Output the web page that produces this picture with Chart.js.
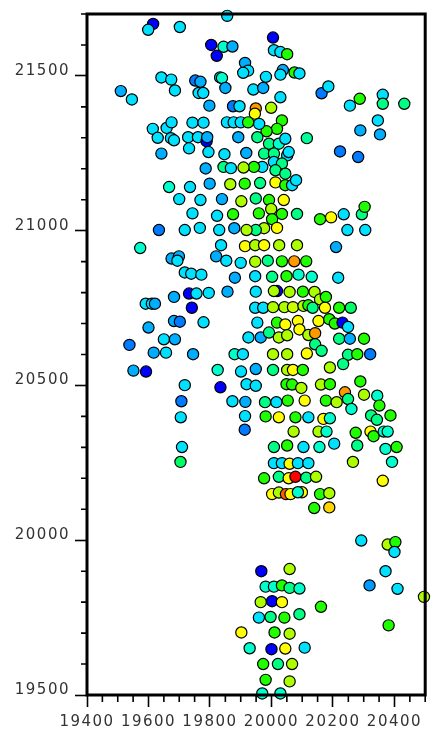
<!DOCTYPE html>
<html><head><meta charset="utf-8">
<script src="https://cdn.jsdelivr.net/npm/chart.js@4.4.1/dist/chart.umd.min.js"></script>
<style>html,body{margin:0;padding:0;background:#fff;}canvas{display:block}</style>
</head><body>
<canvas id="c" width="432" height="736"></canvas>
<script>
const xTickValues = [19400, 19600, 19800, 20000, 20200, 20400];
const yTickValues = [19500, 20000, 20500, 21000, 21500];
const xRange = [19400, 20500];
const yRange = [19500, 21700];

const xValues = [
19615,19599,19702,19856,19804,19822,19844,19873,19914,19924,19908,19642,19674,19686,19510,19546,19752,19769,19763,19778,
19833,19839,19850,19798,19875,19896,19941,19949,19946,20005,20008,20029,20051,20037,20029,20075,20091,19982,19973,20029,
20163,20185,20255,20287,20362,20362,20432,20346,20353,20289,20115,20223,20282,19999,20034,20018,19984,19960,19954,19992,
20024,20045,19976,20008,20051,20056,20008,20034,19970,20013,20045,19943,19963,20013,20045,20067,20080,19949,19992,20040,
19999,19959,20034,20002,19976,20018,19949,20083,20158,20194,20235,20294,20303,20247,20305,19614,19630,19659,19675,19673,
19683,19642,19743,19779,19729,19761,19789,19791,19732,19795,19855,19877,19900,19924,19892,19847,19918,19786,19844,19868,
19909,19667,19735,19799,19866,19913,19700,19769,19839,19902,19743,19823,19875,19634,19718,19767,19830,19879,19919,19573,
19675,19699,19694,19718,19739,19772,19820,19836,19853,19900,19881,19914,19947,19947,19683,19732,19756,19796,19857,19741,
19591,19611,19621,19683,19702,19779,19600,19650,19686,19538,19617,19657,19745,19880,19907,19551,19592,19825,19901,19718,
19834,19919,19707,19873,19915,19705,19914,19913,19709,19704,19925,19947,19949,19947,19954,19949,19949,19976,20025,20083,
20210,19988,20034,20074,20113,20002,20049,20088,20131,20217,20018,20008,20059,20102,20140,20158,20177,19973,20005,20042,
20070,20104,20120,20134,20174,20220,20258,20018,20045,20086,20091,20153,20188,20206,20231,20249,19965,19992,20024,20051,
20120,20142,20220,20255,20301,20142,20163,20005,20051,20115,20249,20279,20321,20233,20005,20051,20070,20102,20190,20049,
20067,20097,20161,20190,20289,20239,20301,20344,19979,20016,20053,20108,20177,20212,20249,20260,20351,19981,20024,20078,
20120,20169,20190,20324,20343,20387,20072,20153,20179,20274,20322,20332,20365,20378,20008,20051,20104,20156,20204,20279,
20371,20407,20008,20034,20059,20086,20120,20265,20392,19976,20024,20056,20078,20113,20145,20002,20024,20047,20062,20099,
20086,20158,20188,20139,20188,20362,20292,20378,20403,20400,20371,20319,20410,20496,20381,19967,20059,19981,20008,20034,
20059,20091,19965,20002,20034,19959,19997,20042,20091,20161,20010,20059,19902,19929,20000,20045,20108,19973,20021,20067,
19981,20059,19970,20029
];
const yValues = [
21668,21649,21658,21694,21600,21565,21594,21595,21542,21517,21510,21495,21488,21453,21451,21424,21485,21481,21445,21445,
21495,21493,21461,21404,21402,21402,21456,21395,21378,21624,21583,21577,21570,21519,21504,21511,21508,21497,21461,21431,
21444,21466,21404,21426,21439,21410,21410,21356,21311,21324,21299,21256,21238,21397,21356,21329,21321,21345,21302,21281,
21281,21297,21249,21249,21243,21254,21222,21217,21206,21195,21184,21206,21154,21156,21147,21147,21163,21104,21099,21099,
21070,21056,21054,21037,21008,21009,21002,21054,21037,21043,21053,21053,21077,21002,21002,21329,21300,21332,21350,21299,
21292,21249,21349,21349,21302,21302,21289,21302,21266,21254,21350,21350,21350,21350,21302,21247,21251,21201,21206,21202,
21204,21141,21141,21152,21150,21152,21102,21099,21102,21095,21056,21048,21053,21002,21002,21009,21002,21008,21002,20944,
20910,20917,20903,20865,20861,20858,20917,20953,20903,20896,20848,20950,20953,20900,20786,20797,20797,20799,20803,20751,
20764,20764,20764,20708,20706,20704,20687,20649,20649,20631,20606,20606,20601,20601,20601,20548,20545,20550,20545,20501,
20494,20504,20449,20449,20447,20397,20401,20357,20301,20253,20655,20853,20803,20751,20703,20553,20499,20953,20953,20953,
20947,20903,20901,20901,20901,20851,20853,20858,20851,20848,20805,20805,20802,20803,20802,20778,20786,20751,20753,20753,
20753,20757,20759,20751,20751,20751,20751,20703,20697,20708,20681,20708,20714,20700,20703,20689,20655,20671,20655,20662,
20663,20669,20651,20651,20651,20633,20612,20601,20601,20603,20599,20601,20601,20569,20550,20550,20550,20550,20558,20504,
20503,20492,20503,20504,20513,20478,20470,20467,20446,20446,20451,20451,20451,20446,20456,20424,20435,20400,20397,20397,
20397,20392,20394,20403,20389,20403,20351,20351,20351,20347,20351,20336,20351,20351,20301,20306,20301,20301,20312,20306,
20295,20301,20249,20249,20247,20249,20249,20253,20253,20200,20205,20200,20205,20202,20205,20149,20154,20149,20149,20155,
20155,20149,20152,20104,20106,20192,19999,19986,19994,19962,19900,19854,19843,19817,19725,19900,19907,19850,19850,19854,
19846,19844,19800,19803,19800,19750,19752,19750,19761,19785,19702,19698,19702,19651,19648,19650,19653,19600,19600,19600,
19549,19544,19505,19505
];
const zValues = [
0,22,22,22,0,0,30,17,17,22,22,22,22,22,17,22,12,17,22,22,
22,30,17,17,12,22,22,85,75,0,22,22,53,17,22,53,22,22,17,22,
12,22,22,53,22,37,37,22,17,17,35,12,12,67,53,53,53,22,37,37,
30,22,37,37,22,22,22,37,22,37,37,53,37,75,53,22,22,37,53,75,
67,53,53,53,67,75,37,37,53,75,22,37,53,22,22,22,22,22,22,22,
22,17,22,22,22,22,0,17,22,22,22,22,22,53,17,22,17,17,37,22,
67,30,22,17,67,53,22,22,17,67,22,22,53,12,22,22,22,17,67,30,
17,17,22,22,22,22,17,22,22,22,17,75,67,67,17,0,22,22,17,0,
22,22,17,17,12,22,17,22,17,12,17,22,17,30,22,17,0,30,22,22,
0,22,12,22,17,22,22,12,22,40,22,22,22,22,22,17,22,75,67,67,
17,37,53,85,53,37,53,30,30,22,0,67,67,53,67,67,53,22,67,67,
70,67,53,37,75,53,40,53,75,75,75,75,53,53,0,22,17,37,67,67,
67,85,37,17,53,37,37,67,67,75,37,53,12,37,37,67,75,53,67,53,
53,67,67,53,53,85,67,30,37,22,53,75,53,67,37,30,53,53,75,53,
22,75,30,37,37,53,67,67,30,53,75,53,30,30,37,53,22,30,22,37,
30,53,22,22,75,22,22,67,30,53,37,75,100,37,67,75,67,91,75,75,
30,53,67,53,79,75,22,67,53,22,22,15,22,67,53,0,67,30,30,53,
37,30,67,0,75,22,37,53,37,53,53,67,75,30,0,75,22,53,37,67,
53,67,30,30
];

const xMinorStep = 50;
const yMinorStep = 100;

function colorFor(z) {
  const h = 240 - 2.4 * z;
  return 'hsl(' + h.toFixed(1) + ',100%,50%)';
}

const points = xValues.map((x, i) => ({ x: x, y: yValues[i] }));
const colors = zValues.map(colorFor);

const framePlugin = {
  id: 'frame',
  beforeDraw(chart) {
    chart.ctx.letterSpacing = '1.5px';
  },
  afterDraw(chart) {
    const ctx = chart.ctx, a = chart.chartArea, sx = chart.scales.x, sy = chart.scales.y;
    ctx.save();
    ctx.strokeStyle = '#000';
    ctx.lineWidth = 1.6;
    ctx.beginPath();
    for (let v = xRange[0]; v <= xRange[1]; v += xMinorStep) {
      if (xTickValues.includes(v)) continue;
      const p = sx.getPixelForValue(v);
      ctx.moveTo(p, a.bottom); ctx.lineTo(p, a.bottom + 7);
    }
    for (let v = yRange[0]; v <= yRange[1]; v += yMinorStep) {
      if (yTickValues.includes(v)) continue;
      const p = sy.getPixelForValue(v);
      ctx.moveTo(a.left, p); ctx.lineTo(a.left - 6, p);
    }
    ctx.stroke();
    ctx.lineWidth = 3;
    ctx.strokeRect(a.left, a.top, a.right - a.left, a.bottom - a.top);
    ctx.restore();
  }
};

new Chart(document.getElementById('c'), {
  type: 'scatter',
  data: {
    datasets: [{
      data: points,
      pointBackgroundColor: colors,
      pointBorderColor: '#000',
      pointBorderWidth: 1.2,
      pointRadius: 5.6,
      clip: false
    }]
  },
  options: {
    responsive: false,
    animation: false,
    events: [],
    layout: { padding: { top: 11, right: 3, left: 0, bottom: 0 } },
    plugins: { legend: { display: false }, tooltip: { enabled: false } },
    scales: {
      x: {
        type: 'linear', min: xRange[0], max: xRange[1],
        afterBuildTicks: s => { s.ticks = xTickValues.map(v => ({ value: v })); },
        afterFit: s => { s.height = 41; },
        grid: { drawOnChartArea: false, drawTicks: true, tickLength: 12, tickColor: '#000', tickWidth: 1.6 },
        border: { display: false },
        ticks: { color: '#333', padding: 6, maxRotation: 0, autoSkip: false,
          font: { family: 'DejaVu Sans', size: 15 }, callback: v => String(v) }
      },
      y: {
        type: 'linear', min: yRange[0], max: yRange[1],
        afterBuildTicks: s => { s.ticks = yTickValues.map(v => ({ value: v })); },
        afterFit: s => { s.width = 87; },
        grid: { drawOnChartArea: false, drawTicks: true, tickLength: 12, tickColor: '#000', tickWidth: 1.6 },
        border: { display: false },
        ticks: { color: '#333', padding: 5, labelOffset: -5, autoSkip: false,
          font: { family: 'DejaVu Sans', size: 15 }, callback: v => String(v) }
      }
    }
  },
  plugins: [framePlugin]
});
</script>
</body></html>
